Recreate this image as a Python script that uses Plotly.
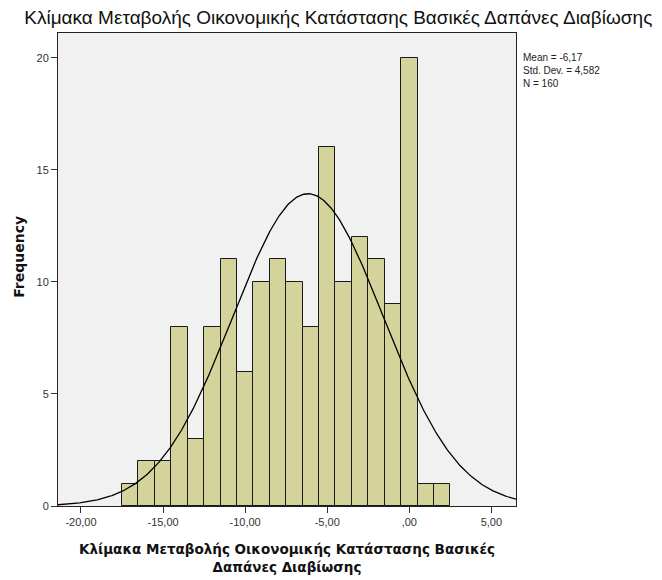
import numpy as np
import plotly.graph_objects as go

# Data
bin_centers = [-17, -16, -15, -14, -13, -12, -11, -10, -9, -8, -7, -6, -5, -4, -3, -2, -1, 0, 1, 2]
counts = [1, 2, 2, 8, 3, 8, 11, 6, 10, 11, 10, 8, 16, 10, 12, 11, 9, 20, 1, 1]
mean_val = -6.17
sd_val = 4.582
n_val = 160
x_tick_vals = [-20, -15, -10, -5, 0, 5]
x_tick_text = ["-20,00", "-15,00", "-10,00", "-5,00", ",00", "5,00"]
y_tick_vals = [0, 5, 10, 15, 20]

title_text = "Κλίμακα Μεταβολής Οικονομικής Κατάστασης Βασικές Δαπάνες Διαβίωσης"
x_title = "<b>Κλίμακα Μεταβολής Οικονομικής Κατάστασης Βασικές<br>Δαπάνες Διαβίωσης</b>"

bin_width = 1.0
xr = [-21.4, 6.5]
xs = np.linspace(xr[0], xr[1], 400)
ys = n_val * bin_width / (sd_val * np.sqrt(2 * np.pi)) * np.exp(-0.5 * ((xs - mean_val) / sd_val) ** 2)

W, H = 654, 572  # page body has an 8px default margin
fig = go.Figure()
fig.add_trace(go.Bar(
    x=bin_centers, y=counts, width=bin_width,
    marker=dict(color="#d3d39b", line=dict(color="#1a1a1a", width=1)),
    showlegend=False, hoverinfo="x+y"))
fig.add_trace(go.Scatter(x=xs, y=ys, mode="lines",
                         line=dict(color="black", width=1.3), showlegend=False, hoverinfo="skip"))

fig.update_layout(
    width=W, height=H,
    margin=dict(l=50, r=146, t=25, b=74),
    paper_bgcolor="white", plot_bgcolor="#f1f1f1",
    bargap=0,
    font=dict(family="Liberation Sans, Arial, sans-serif", color="#222"),
    title=dict(text=title_text, x=0.505, xanchor="center", y=0.983, yanchor="middle",
               font=dict(size=19, color="#111")),
    xaxis=dict(range=xr, tickvals=x_tick_vals, ticktext=x_tick_text, automargin=False,
               ticks="outside", ticklen=6, tickcolor="#333", showgrid=False, zeroline=False,
               showline=True, linecolor="#222", linewidth=1, mirror=True,
               tickfont=dict(size=11, color="#333"),
               title=dict(text=x_title, font=dict(size=13.5, color="#111", family="DejaVu Sans, sans-serif"),
                          standoff=17)),
    yaxis=dict(range=[0, 21.1], tickvals=y_tick_vals, ticks="outside", ticklen=6, tickcolor="#333",
               automargin=False,
               showgrid=False, zeroline=False, showline=True, linecolor="#222", linewidth=1, mirror=True,
               tickfont=dict(size=11, color="#333")),
    annotations=[
        dict(xref="paper", yref="paper", x=1.012, y=0.965, xanchor="left", yanchor="top",
             text=f"Mean = {str(mean_val).replace('.', ',')}<br>Std. Dev. = {str(sd_val).replace('.', ',')}<br>N = {n_val}",
             showarrow=False, align="left", font=dict(size=10, color="#222")),
        dict(xref="paper", yref="paper", x=-0.085, y=0.527, xanchor="center", yanchor="middle",
             text="<b>Frequency</b>", textangle=-90, showarrow=False,
             font=dict(size=14, color="#111", family="DejaVu Sans, sans-serif")),
    ],
)
fig.write_html("out.html")
